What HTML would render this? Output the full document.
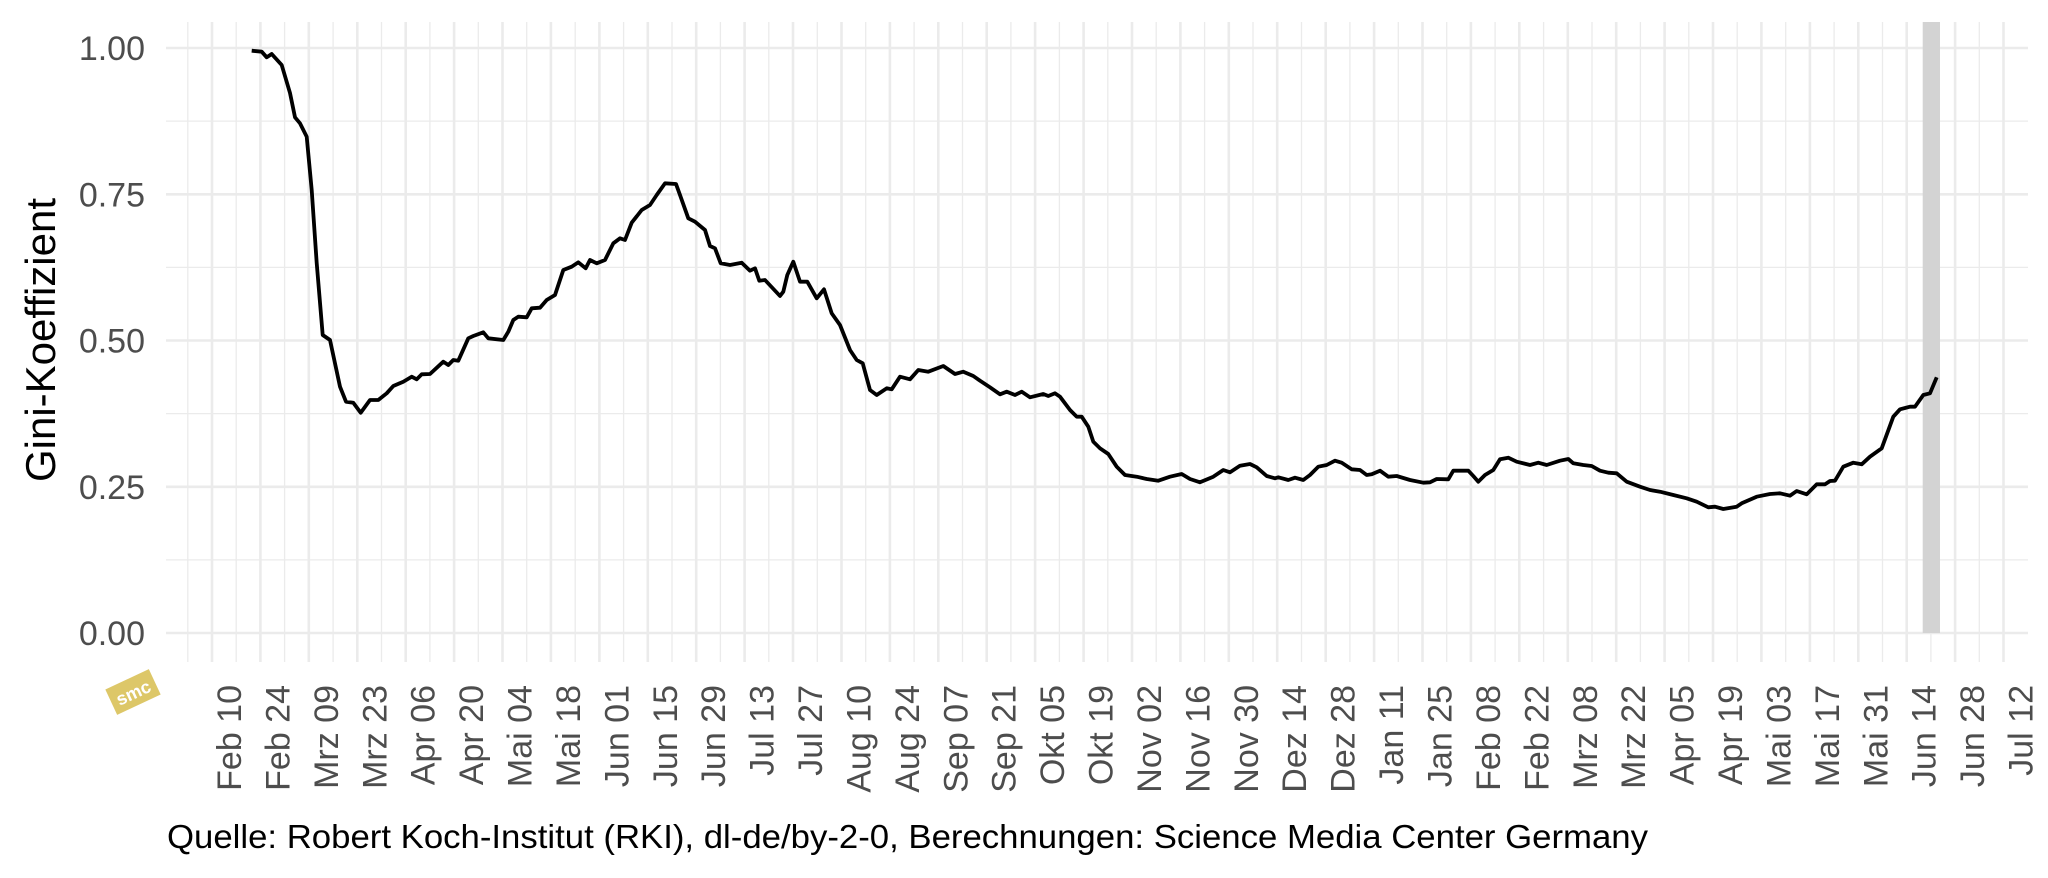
<!DOCTYPE html>
<html><head><meta charset="utf-8"><style>
html,body{margin:0;padding:0;background:#fff;}
svg{display:block;}
text{font-family:"Liberation Sans",Arial,sans-serif;}
</style></head><body>
<svg width="2048" height="878" viewBox="0 0 2048 878" xmlns="http://www.w3.org/2000/svg">
<rect width="2048" height="878" fill="#fff"/>
<g stroke="#ebebeb" stroke-width="1.3" fill="none">
<path d="M166 121.1H2028M166 267.4H2028M166 413.6H2028M166 559.9H2028"/>
<path d="M187.8 22V662M236.2 22V662M284.6 22V662M333.1 22V662M381.5 22V662M429.9 22V662M478.3 22V662M526.7 22V662M575.2 22V662M623.6 22V662M672 22V662M720.4 22V662M768.8 22V662M817.3 22V662M865.7 22V662M914.1 22V662M962.5 22V662M1010.9 22V662M1059.4 22V662M1107.8 22V662M1156.2 22V662M1204.6 22V662M1253 22V662M1301.5 22V662M1349.9 22V662M1398.3 22V662M1446.7 22V662M1495.1 22V662M1543.6 22V662M1592 22V662M1640.4 22V662M1688.8 22V662M1737.2 22V662M1785.7 22V662M1834.1 22V662M1882.5 22V662M1930.9 22V662M1979.3 22V662"/>
</g>
<g stroke="#ebebeb" stroke-width="2.6" fill="none">
<path d="M166 48H2028M166 194.3H2028M166 340.5H2028M166 486.8H2028M166 633H2028"/>
<path d="M212 22V662M260.4 22V662M308.8 22V662M357.3 22V662M405.7 22V662M454.1 22V662M502.5 22V662M550.9 22V662M599.4 22V662M647.8 22V662M696.2 22V662M744.6 22V662M793 22V662M841.5 22V662M889.9 22V662M938.3 22V662M986.7 22V662M1035.1 22V662M1083.6 22V662M1132 22V662M1180.4 22V662M1228.8 22V662M1277.2 22V662M1325.7 22V662M1374.1 22V662M1422.5 22V662M1470.9 22V662M1519.3 22V662M1567.8 22V662M1616.2 22V662M1664.6 22V662M1713 22V662M1761.4 22V662M1809.9 22V662M1858.3 22V662M1906.7 22V662M1955.1 22V662M2003.5 22V662"/>
</g>
<rect x="1922.7" y="22" width="17.3" height="611" fill="#d3d3d3"/>
<polyline fill="none" stroke="#000" stroke-width="3.8" stroke-linejoin="round" points="251.7,50.7 261.7,51.7 266.7,57.3 271.7,54 281.7,65 290,93 295,117.3 300,123.3 306.7,136.7 311.7,190 316.7,263 322.7,335 330,340 340,386.7 346,401.7 353.3,402.7 360.7,412.7 370,400 378.3,400 386.7,393.3 393.3,386 403.3,381.7 411.7,376.7 416.7,379.3 421.7,374.3 430,374 443.3,361.7 448.3,365 453.3,360 458.3,360.7 468.3,338.3 473.3,336 483.3,332.3 488.3,338.3 503.3,340 508.3,331.7 513.3,320 518.3,316.7 526.7,317.3 531.7,308.3 540,307.7 546.7,300 555,295 563.3,270 571.7,266.7 578.3,262.3 585.7,268.3 590,260 596.7,263.3 605,260 613.3,243.3 620,238.3 625,240 631.7,222.7 641.7,210 650,205 656.7,195 665,183.3 676,184 680,195 688.3,218.3 695,221.7 705,230 710,246 715,248.3 720.7,263.3 730,265 741.7,262.7 750,270.7 755,268.3 759.3,280.7 765,280 780,296 783.3,291.7 787.3,275 793.3,261.7 800,281.7 807.3,281.7 816.7,298.3 824,289.3 831.7,313.3 840,325 850,350 856.7,360 862.7,363.3 870,390 876.7,395 886.7,388.3 891.7,389.3 900,376.7 910,379.3 918.3,370 928.3,371.7 943.3,366 955,374 963.3,371.7 973.3,376 980,380.7 990,387.3 1000,394.3 1006.7,391.7 1015,395 1021.7,391.7 1030,397.3 1043.3,394 1048.3,396 1055,393.3 1060,396.7 1070,410 1076.7,416.7 1081.7,416.7 1088.3,426.7 1093.3,441.7 1100,448.3 1108.3,454 1116.7,466.7 1125,475 1136.7,476.7 1146.7,479 1158.3,480.7 1170,476.7 1181.7,474 1190,479 1200,482.3 1213.3,476.7 1223.3,470 1230,472.3 1240,465.7 1250,464 1256.7,467.3 1266.7,476 1275,478.3 1278.3,477.3 1288.3,480 1295,477.7 1303.3,480 1310,475 1318.3,466.7 1326.7,465 1335,460.7 1341.7,462.7 1351.7,469.3 1360,470 1366.7,475 1371.7,474.3 1380,470.7 1388.3,476.7 1396.7,476 1410,480 1423.3,482.7 1430,482.3 1436.7,479 1448.3,479.3 1453.3,470.7 1468.3,470.7 1473.3,476 1478.3,481.7 1485,475 1493.3,470 1500,459.3 1508.3,457.7 1516.7,461.7 1530,465 1538.3,462.7 1546.7,465 1560,460.7 1568.3,459 1573.3,463.3 1583.3,465 1591.7,466 1600,470.7 1608.3,472.7 1616.7,473.3 1626.7,481.7 1640,486.7 1650,490 1660,491.7 1673.3,495 1686.7,498.3 1696.7,501.7 1708.3,507.3 1715,506.7 1723.3,509 1736.7,506.7 1741.7,503.3 1756.7,496.7 1770,494 1780,493.3 1790,495.7 1796.7,491 1806.7,494.3 1816.7,484.3 1825,484.3 1830,481 1835,480.7 1843.3,466.7 1853.3,462.7 1861.7,464.3 1870,456.7 1881.7,448.3 1893.3,416.7 1900,409.3 1910,406.7 1915,406.7 1923.3,395 1930,393.3 1936.7,377.3"/>
<g fill="#4d4d4d" font-size="34" text-anchor="end">
<text x="145" y="60">1.00</text>
<text x="145" y="206.3">0.75</text>
<text x="145" y="352.5">0.50</text>
<text x="145" y="498.8">0.25</text>
<text x="145" y="645">0.00</text>
</g>
<text transform="translate(55,340) rotate(-90)" text-anchor="middle" font-size="42" fill="#000">Gini-Koeffizient</text>
<g fill="#4d4d4d" font-size="34" text-anchor="end">
<text transform="translate(241,685) rotate(-90)">Feb 10</text>
<text transform="translate(289.4,685) rotate(-90)">Feb 24</text>
<text transform="translate(337.8,685) rotate(-90)">Mrz 09</text>
<text transform="translate(386.3,685) rotate(-90)">Mrz 23</text>
<text transform="translate(434.7,685) rotate(-90)">Apr 06</text>
<text transform="translate(483.1,685) rotate(-90)">Apr 20</text>
<text transform="translate(531.5,685) rotate(-90)">Mai 04</text>
<text transform="translate(579.9,685) rotate(-90)">Mai 18</text>
<text transform="translate(628.4,685) rotate(-90)">Jun 01</text>
<text transform="translate(676.8,685) rotate(-90)">Jun 15</text>
<text transform="translate(725.2,685) rotate(-90)">Jun 29</text>
<text transform="translate(773.6,685) rotate(-90)">Jul 13</text>
<text transform="translate(822,685) rotate(-90)">Jul 27</text>
<text transform="translate(870.5,685) rotate(-90)">Aug 10</text>
<text transform="translate(918.9,685) rotate(-90)">Aug 24</text>
<text transform="translate(967.3,685) rotate(-90)">Sep 07</text>
<text transform="translate(1015.7,685) rotate(-90)">Sep 21</text>
<text transform="translate(1064.1,685) rotate(-90)">Okt 05</text>
<text transform="translate(1112.6,685) rotate(-90)">Okt 19</text>
<text transform="translate(1161,685) rotate(-90)">Nov 02</text>
<text transform="translate(1209.4,685) rotate(-90)">Nov 16</text>
<text transform="translate(1257.8,685) rotate(-90)">Nov 30</text>
<text transform="translate(1306.2,685) rotate(-90)">Dez 14</text>
<text transform="translate(1354.7,685) rotate(-90)">Dez 28</text>
<text transform="translate(1403.1,685) rotate(-90)">Jan 11</text>
<text transform="translate(1451.5,685) rotate(-90)">Jan 25</text>
<text transform="translate(1499.9,685) rotate(-90)">Feb 08</text>
<text transform="translate(1548.3,685) rotate(-90)">Feb 22</text>
<text transform="translate(1596.8,685) rotate(-90)">Mrz 08</text>
<text transform="translate(1645.2,685) rotate(-90)">Mrz 22</text>
<text transform="translate(1693.6,685) rotate(-90)">Apr 05</text>
<text transform="translate(1742,685) rotate(-90)">Apr 19</text>
<text transform="translate(1790.4,685) rotate(-90)">Mai 03</text>
<text transform="translate(1838.9,685) rotate(-90)">Mai 17</text>
<text transform="translate(1887.3,685) rotate(-90)">Mai 31</text>
<text transform="translate(1935.7,685) rotate(-90)">Jun 14</text>
<text transform="translate(1984.1,685) rotate(-90)">Jun 28</text>
<text transform="translate(2032.5,685) rotate(-90)">Jul 12</text>
</g>
<g transform="translate(133,692) rotate(-25)">
<rect x="-24" y="-14" width="48" height="28" fill="#d9c158" opacity="0.9"/>
<text x="0" y="7" font-size="18" font-weight="bold" fill="#fff" text-anchor="middle">smc</text>
</g>
<text x="167" y="848" font-size="33" fill="#000" textLength="1481" lengthAdjust="spacingAndGlyphs">Quelle: Robert Koch-Institut (RKI), dl-de/by-2-0, Berechnungen: Science Media Center Germany</text>
</svg>
</body></html>
